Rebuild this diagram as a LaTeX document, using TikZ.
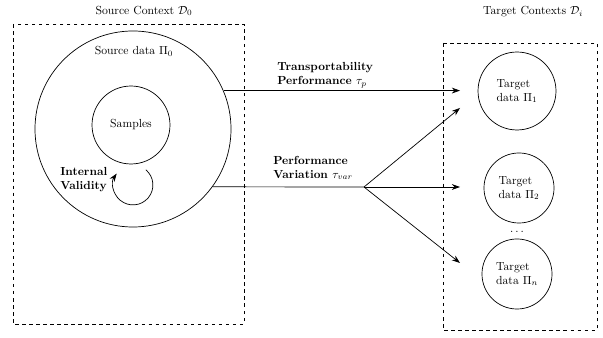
\documentclass[tikz,border=0pt]{standalone}
\usepackage{amsmath}
\usepackage{tikz}
\usetikzlibrary{arrows.meta}

\begin{document}
\begin{tikzpicture}[x=0.854pt, y=-0.854pt, semithick, >={Stealth[length=7pt, width=5pt]},
        ctx/.style={draw, dashed},
        data/.style={circle, draw, minimum size=66.6pt, inner sep=0pt, align=left},
        lbl/.style={font=\bfseries, align=left, inner sep=0pt}]

        \useasboundingbox (0,0) rectangle (603,338);

        \draw[ctx] (13,24) rectangle (244,324);
        \draw[ctx] (443,43) rectangle (597,330);
        \node (srcT) at (144,11) {Source Context $\mathcal{D}_0$};
        \node (tgtT) at (533,12) {Target Contexts $\mathcal{D}_i$};

        \node[circle, draw, minimum size=167.4pt] (src) at (133,129) {};
        \node (srcL) at (134,51) {Source data $\Pi_0$};
        \node[data] (samples) at (131,125) {Samples};

        \coordinate (ivc) at (133,185);
        \draw[->] ([shift={(50:17pt)}]ivc) arc[start angle=50, end angle=-215, radius=17pt];
        \node[lbl, anchor=west] (iv) at (60,180) {Internal\\Validity};

        \node[data] (t1) at (517,91) {Target\\data $\Pi_1$};
        \node[data, minimum size=59.8pt] (t2) at (519,188) {Target\\data $\Pi_2$};
        \node (dots) at (518,232) {$\dots$};
        \node[data, minimum size=59.8pt] (tn) at (517,274) {Target\\data $\Pi_n$};

        \coordinate (fork) at (364,187);
        \coordinate (e1) at (460,90);
        \coordinate (e2) at (460,108);
        \coordinate (e3) at (460,187);
        \coordinate (e4) at (460,263);

        \draw[->] (src.23) -- (src.23 -| e1);
        \draw (src.-36) -- (fork);
        \draw[->] (fork) -- (e2);
        \draw[->] (fork) -- (e3);
        \draw[->] (fork) -- (e4);

        \node[lbl, anchor=west] (tp) at (277,75) {Transportability\\Performance $\tau_p$};
        \node[lbl, anchor=west] (tv) at (273,168) {Performance\\Variation $\tau_{var}$};

    \end{tikzpicture}
\end{document}
